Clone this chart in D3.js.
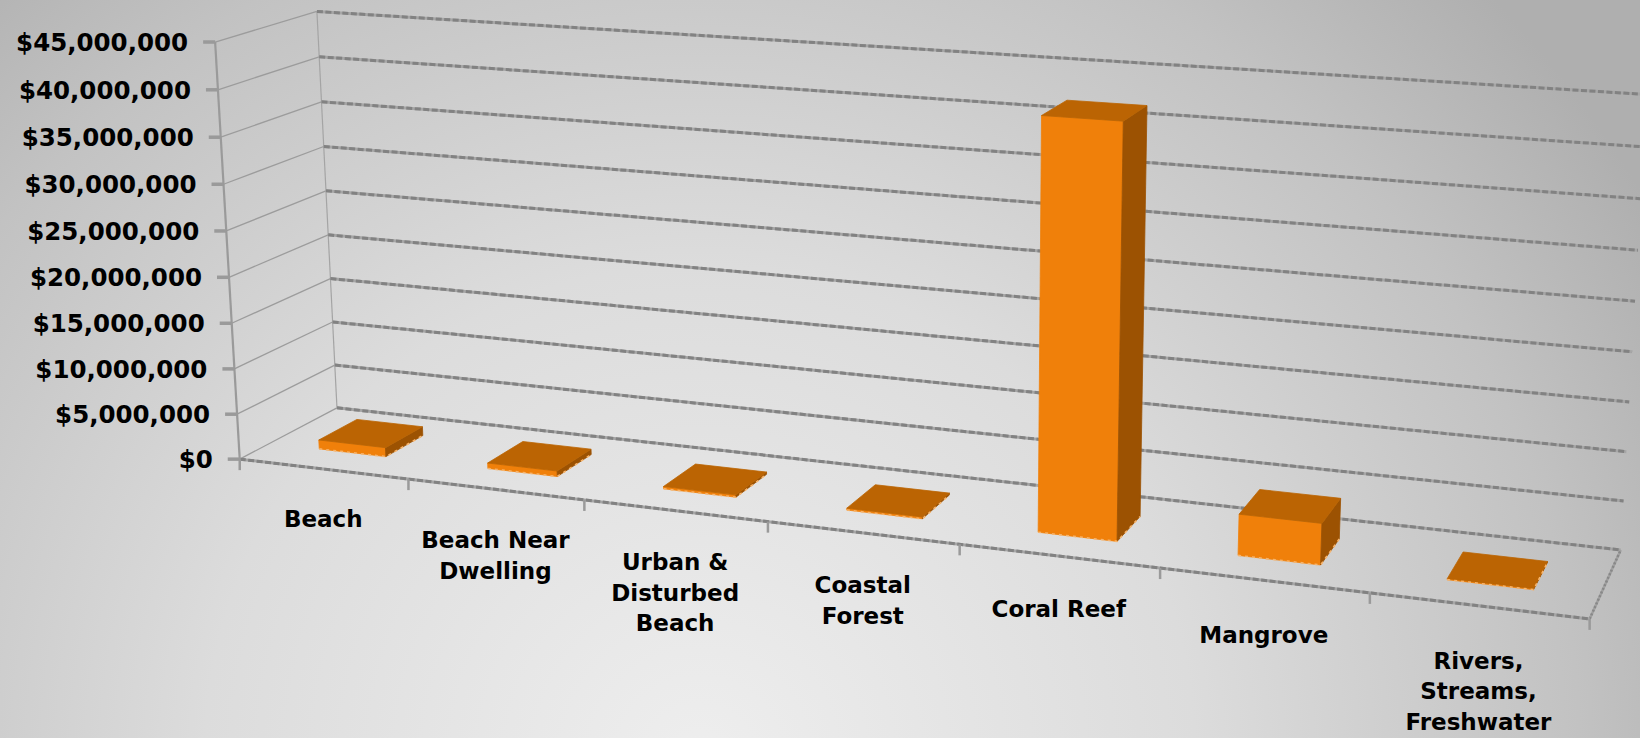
<!DOCTYPE html>
<html><head><meta charset="utf-8">
<script src="https://cdn.jsdelivr.net/npm/d3@7"></script>
<style>html,body{margin:0;padding:0;overflow:hidden;background:#cccccc}</style>
</head><body>
<svg id="chart" width="1640" height="738"></svg>
<script>
// ---------------- data ----------------
const categories = ["Beach","Beach Near Dwelling","Urban & Disturbed Beach","Coastal Forest","Coral Reef","Mangrove","Rivers, Streams, Freshwater"];
const categoryLines = [["Beach"],["Beach Near","Dwelling"],["Urban &","Disturbed","Beach"],["Coastal","Forest"],["Coral Reef"],["Mangrove"],["Rivers,","Streams,","Freshwater"]];
const values = [1000000, 600000, 250000, 200000, 42000000, 4200000, 100000];
const yTicks = [0,5000000,10000000,15000000,20000000,25000000,30000000,35000000,40000000,45000000];
const yTickLabels = ["$0","$5,000,000","$10,000,000","$15,000,000","$20,000,000","$25,000,000","$30,000,000","$35,000,000","$40,000,000","$45,000,000"];
const yMax = 45000000;

// ---------------- camera calibration (frame layout) ----------------
// world: x = category units (0..7), y = normalised value (0..1), z = depth (0 front .. 1 back)
const frameWorld  = [[0,0,0],[0,1,0],[0,0,1],[0,1,1],[7,0,0],[7,0,1],[7,1,1],
                     [1,0,0],[2,0,0],[3,0,0],[4,0,0],[5,0,0],[6,0,0],[7,1/9,1],[0,1/9,0]];
const frameScreen = [[240,460],[215,42],[337,407],[317,11],[1590,618],[1622,550],[1647,95],
                     [408,480],[583,500],[768,522],[960,544],[1160,568],[1370,592],[1622,502],[238,414]];

function solveDLT(world, screen){
  const n=11, A=[], b=[];
  world.forEach((w,i)=>{const [X,Y,Z]=w; const u=screen[i][0]/1000, v=screen[i][1]/1000;
    A.push([X,Y,Z,1,0,0,0,0,-u*X,-u*Y,-u*Z]); b.push(u);
    A.push([0,0,0,0,X,Y,Z,1,-v*X,-v*Y,-v*Z]); b.push(v);});
  const N=Array.from({length:n},()=>new Array(n+1).fill(0));
  for(let r=0;r<A.length;r++){for(let i=0;i<n;i++){for(let j=0;j<n;j++)N[i][j]+=A[r][i]*A[r][j];N[i][n]+=A[r][i]*b[r];}}
  for(let c=0;c<n;c++){let piv=c;for(let r=c+1;r<n;r++)if(Math.abs(N[r][c])>Math.abs(N[piv][c]))piv=r;
    [N[c],N[piv]]=[N[piv],N[c]];
    for(let r=0;r<n;r++){if(r===c)continue;const f=N[r][c]/N[c][c];for(let k=c;k<=n;k++)N[r][k]-=f*N[c][k];}}
  return N.map((row,i)=>row[n]/row[i]);
}
const p = solveDLT(frameWorld, frameScreen);
function proj(X,Y,Z){const w=p[8]*X+p[9]*Y+p[10]*Z+1;
  return [1000*(p[0]*X+p[1]*Y+p[2]*Z+p[3])/w, 1000*(p[4]*X+p[5]*Y+p[6]*Z+p[7])/w];}
function det3(m){return m[0][0]*(m[1][1]*m[2][2]-m[1][2]*m[2][1])-m[0][1]*(m[1][0]*m[2][2]-m[1][2]*m[2][0])+m[0][2]*(m[1][0]*m[2][1]-m[1][1]*m[2][0]);}
const M=[[p[0],p[1],p[2],p[3]],[p[4],p[5],p[6],p[7]],[p[8],p[9],p[10],1]];
const Cc=[0,1,2,3].map(j=>{const sub=M.map(r=>r.filter((_,k)=>k!==j));return (j%2?-1:1)*det3(sub);});
const cam=[Cc[0]/Cc[3],Cc[1]/Cc[3],Cc[2]/Cc[3]];

// ---------------- scales ----------------
const xBand = d3.scaleBand().domain(categories).range([0,7]).paddingInner(0.6).paddingOuter(0.3);
const zBand = d3.scaleBand().domain(["value"]).range([0,1]).paddingInner(0).paddingOuter(0.75);
const yScale = d3.scaleLinear().domain([0,yMax]).range([0,1]);
const xMax = 7;

const svg = d3.select("#chart");
const defs = svg.append("defs");
const grad = defs.append("radialGradient").attr("id","bg").attr("gradientUnits","userSpaceOnUse")
  .attr("cx",700).attr("cy",760).attr("r",1100);
[[0,"#eeeeee"],[0.45,"#dcdcdc"],[0.8,"#c2c2c2"],[1,"#afafaf"]].forEach(([o,c])=>grad.append("stop").attr("offset",o).attr("stop-color",c));
svg.append("rect").attr("width",1640).attr("height",738).attr("fill","url(#bg)");

const line = d3.line();
const g = svg.append("g");

function seg(a,b,stroke,width,dash){
  g.append("path").attr("d",line([proj(...a),proj(...b)])).attr("fill","none")
   .attr("stroke",stroke).attr("stroke-width",width).attr("stroke-dasharray",dash||null).attr("stroke-linecap","butt");
}
function heavy(a,b){ seg(a,b,"#a6a6a6",3); seg(a,b,"#828282",3,"6 2.5"); }

// left side wall gridlines
yTicks.forEach(t=>{const y=yScale(t); seg([0,y,0],[0,y,1],"#9c9c9c",1.3);});
// back-left vertical edge
seg([0,0,1],[0,1,1],"#a4a4a4",1.2);
// back wall gridlines
yTicks.forEach(t=>{const y=yScale(t); heavy([0,y,1],[xMax,y,1]);});
// floor right edge
seg([xMax,0,0],[xMax,0,1],"#a0a0a0",2.5); seg([xMax,0,0],[xMax,0,1],"#888",2.5,"2 2");

// ---------------- bars ----------------
const colFront="#f0800a", colTop="#bb6403", colSide="#9c5202";
const bars = categories.map((c,i)=>({c,i,v:values[i],x0:xBand(c),x1:xBand(c)+xBand.bandwidth(),
  z0:zBand("value"),z1:zBand("value")+zBand.bandwidth(),h:yScale(values[i])}));
bars.forEach(b=>{const cx=(b.x0+b.x1)/2,cz=(b.z0+b.z1)/2;b.d=(cx-cam[0])**2+(cz-cam[2])**2;});
bars.sort((a,b)=>b.d-a.d);
const barG = svg.append("g");
bars.forEach(b=>{
  const {x0,x1,z0,z1,h}=b;
  const faces=[];
  if(cam[2]<z0) faces.push({pts:[[x0,0,z0],[x1,0,z0],[x1,h,z0],[x0,h,z0]],fill:colFront});
  if(cam[2]>z1) faces.push({pts:[[x0,0,z1],[x1,0,z1],[x1,h,z1],[x0,h,z1]],fill:colFront});
  if(cam[0]<x0) faces.push({pts:[[x0,0,z0],[x0,0,z1],[x0,h,z1],[x0,h,z0]],fill:colSide});
  if(cam[0]>x1) faces.push({pts:[[x1,0,z0],[x1,0,z1],[x1,h,z1],[x1,h,z0]],fill:colSide});
  if(cam[1]>h) faces.push({pts:[[x0,h,z0],[x1,h,z0],[x1,h,z1],[x0,h,z1]],fill:colTop});
  faces.forEach(f=>{
    barG.append("path").attr("d",line(f.pts.map(q=>proj(...q)))+"Z").attr("fill",f.fill)
      .attr("stroke",f.fill).attr("stroke-width",0.8).attr("stroke-linejoin","round");
  });
  // light dotted bottom edges
  barG.append("path").attr("d",line([proj(x0,0,z0),proj(x1,0,z0),proj(x1,0,z1)]))
    .attr("fill","none").attr("stroke","#f7b46c").attr("stroke-width",1.6).attr("stroke-dasharray","3 4");
});

// ---------------- front axes ----------------
const g2 = svg.append("g");
function seg2(a,b,stroke,width,dash){
  g2.append("path").attr("d",line([a,b])).attr("fill","none").attr("stroke",stroke)
    .attr("stroke-width",width).attr("stroke-dasharray",dash||null);
}
// front floor edge
{const a=proj(0,0,0),b=proj(xMax,0,0); seg2(a,b,"#a6a6a6",3); seg2(a,b,"#828282",3,"6 2.5");}
// vertical value axis
seg2(proj(0,0,0),proj(0,1,0),"#9a9a9a",2.2);
yTicks.forEach((t,i)=>{const [ax,ay]=proj(0,yScale(t),0);
  seg2([ax-12,ay],[ax,ay],"#9a9a9a",3.5);
  g2.append("text").attr("x",ax-27).attr("y",ay).attr("dy","0.36em").attr("text-anchor","end")
    .attr("font-family","DejaVu Sans, Verdana, sans-serif").attr("font-weight","bold").attr("font-size",24.5)
    .attr("fill","#000").text(yTickLabels[i]);
});
// category ticks
d3.range(0,categories.length+1).forEach(k=>{const [tx,ty]=proj(k*xBand.step(),0,0);
  seg2([tx,ty],[tx,ty+11],"#9a9a9a",2.5);});
// category labels
categories.forEach((c,i)=>{
  const [lx,ly]=proj(xBand(c)+xBand.bandwidth()/2,0,0);
  const t=g2.append("text").attr("text-anchor","middle")
    .attr("font-family","DejaVu Sans, Verdana, sans-serif").attr("font-weight","bold").attr("font-size",23).attr("fill","#000");
  categoryLines[i].forEach((s,j)=>{
    t.append("tspan").attr("x",lx).attr("y",ly+49.5+i*0.9+j*30.5).attr("dy","0.36em").text(s);
  });
});
</script>
</body></html>
